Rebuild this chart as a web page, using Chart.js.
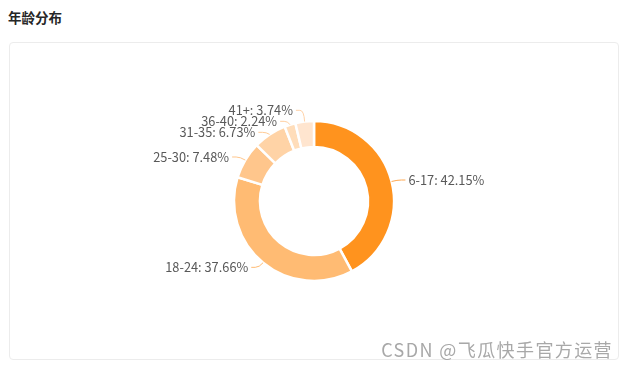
<!DOCTYPE html>
<html>
<head>
<meta charset="utf-8">
<script src="https://cdn.jsdelivr.net/npm/chart.js@4"></script>
<style>
  html, body { margin: 0; padding: 0; background: #fff; }
  body { width: 627px; height: 368px; position: relative; overflow: hidden;
         font-family: "Noto Sans CJK SC", "Noto Sans", sans-serif; }
  .title { position: absolute; left: 8px; top: 7px; font-size: 13.5px; font-weight: bold; color: #262626; }
  .card { position: absolute; left: 9px; top: 42px; width: 608px; height: 316px;
          border: 1px solid #ececec; border-radius: 4px; }
  .card canvas { position: absolute; left: 0; top: 0; }
  .mark { position: absolute; right: 14px; top: 336px; font-size: 18px; color: #a8a8a8;
          font-family: "Noto Sans CJK SC", sans-serif; letter-spacing: 1.4px; }
</style>
</head>
<body>
<div class="title">年龄分布</div>
<div class="card"><canvas id="pie" width="608" height="316"></canvas></div>
<div class="mark">CSDN @飞瓜快手官方运营</div>
<script>
// 年龄段 / 占比(%)
const ageGroups = ['6-17', '18-24', '25-30', '31-35', '36-40', '41+'];
const agePercents = [42.15, 37.66, 7.48, 6.73, 2.24, 3.74];
const sliceColors = ['#FF931E', '#FFBB73', '#FFC68C', '#FFD3A6', '#FFDDBA', '#FFE5CF'];
const lineColors = ['#FFA850', '#FFBB73', '#FFC68C', '#FFCB96', '#FFCFA0', '#FFD2A8'];

// ECharts 风格的外侧标签 + 引导线
const outerLabels = {
  id: 'outerLabels',
  afterDatasetsDraw(chart) {
    const ctx = chart.ctx;
    const meta = chart.getDatasetMeta(0);
    const items = meta.data.map((arc, i) => {
      const mid = (arc.startAngle + arc.endAngle) / 2;
      const r = arc.outerRadius;
      const cos = Math.cos(mid), sin = Math.sin(mid);
      return {
        i, cos, right: cos >= 0,
        x0: arc.x + cos * r, y0: arc.y + sin * r,
        x1: arc.x + cos * (r + 6), y1: arc.y + sin * (r + 6),
        y: arc.y + sin * (r + 6)
      };
    });

    // 同侧标签避让：重叠的标签按均值居中排开
    const gap = 11;
    [true, false].forEach(side => {
      const list = items.filter(it => it.right === side).sort((a, b) => a.y1 - b.y1);
      let groups = list.map(it => [it]);
      let changed = true;
      while (changed) {
        changed = false;
        groups.forEach(g => {
          const mean = g.reduce((s, it) => s + it.y1, 0) / g.length;
          g.forEach((it, k) => { it.y = mean + (k - (g.length - 1) / 2) * gap; });
        });
        for (let k = 0; k < groups.length - 1; k++) {
          const a = groups[k], b = groups[k + 1];
          if (b[0].y - a[a.length - 1].y < gap) {
            groups.splice(k, 2, a.concat(b));
            changed = true;
            break;
          }
        }
      }
    });

    ctx.save();
    ctx.font = '12.8px "Noto Sans CJK SC", "Noto Sans", sans-serif';
    ctx.textBaseline = 'middle';
    ctx.lineWidth = 1;
    items.forEach(it => {
      const dir = it.right ? 1 : -1;
      const x2 = it.x1 + dir * 8;
      ctx.strokeStyle = lineColors[it.i];
      ctx.beginPath();
      ctx.moveTo(it.x0, it.y0);
      ctx.quadraticCurveTo(it.x1, it.y, it.x1 + dir * 4, it.y);
      ctx.lineTo(x2, it.y);
      ctx.stroke();
      ctx.fillStyle = '#595959';
      ctx.textAlign = it.right ? 'left' : 'right';
      ctx.fillText(ageGroups[it.i] + ': ' + agePercents[it.i].toFixed(2) + '%', x2 + dir * 3, it.y);
    });
    ctx.restore();
  }
};

new Chart(document.getElementById('pie'), {
  type: 'doughnut',
  data: {
    labels: ageGroups,
    datasets: [{
      data: agePercents,
      backgroundColor: sliceColors,
      borderColor: '#ffffff',
      borderWidth: 2.5
    }]
  },
  options: {
    responsive: false,
    animation: false,
    radius: 80,
    cutout: '67.5%',
    events: [],
    plugins: {
      legend: { display: false },
      tooltip: { enabled: false }
    }
  },
  plugins: [outerLabels]
});
</script>
</body>
</html>
